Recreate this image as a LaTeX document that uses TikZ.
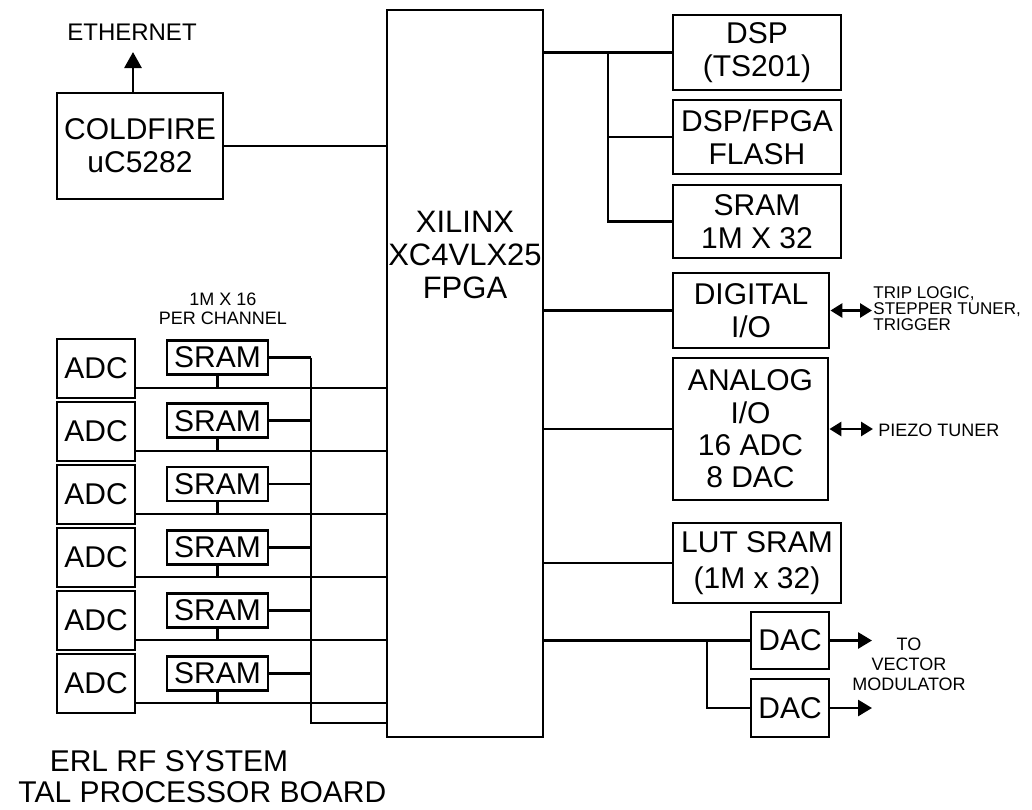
\documentclass[tikz,border=0pt]{standalone}
\usepackage{fontspec}
\setmainfont{Liberation Sans}
\usetikzlibrary{arrows.meta,calc}
\newcommand{\fsz}[2]{\fontsize{#1}{#2}\selectfont}
\begin{document}
\begin{tikzpicture}[x=1pt,y=-1pt,line width=2.8pt,
  box/.style={draw, inner sep=0pt, align=center, font=\fsz{30}{33}},
  lbl/.style={inner sep=0pt, align=center},
  arr/.style={-{Triangle[length=14pt,width=16pt]}},
  earr/.style={-{Triangle[length=16pt,width=17pt]}},
  darr/.style={{Triangle[length=12pt,width=14pt]}-{Triangle[length=12pt,width=14pt]}}]
\useasboundingbox (0,0) rectangle (1032,809);

% FPGA
\node[box, minimum width=156pt, minimum height=727pt] (fpga) at (465,373.5) {};
\node[lbl, font=\fsz{31}{33}] (fpgalbl) at (465,255) {XILINX\\XC4VLX25\\FPGA};

% Coldfire
\node[box, minimum width=166pt, minimum height=106pt] (cf) at (140,146) {COLDFIRE\\uC5282};
\coordinate (eth) at (133,52);
\draw[earr] (eth |- cf.north) -- (eth);
\node[lbl, font=\fsz{24}{26}] (ethl) at (132,32) {ETHERNET};
\draw (cf.east) -- (cf.east -| fpga.west);

% ADC / SRAM column
\node[lbl, font=\fsz{18}{19}] (permem) at (223,309) {1M X 16\\PER CHANNEL};
\coordinate (bus) at (311,723);
\foreach \i in {1,...,6}{
  \node[box, minimum width=78pt, minimum height=59pt] (adc\i) at (96,{368.5+63*(\i-1)}) {ADC};
  \node[box, minimum width=101pt, minimum height=34pt] (sram\i) at (217.5,{357.5+63.2*(\i-1)}) {SRAM};
  \coordinate (ln\i) at ($(adc\i.east)+(0,19.5)$);
  \draw (ln\i) -- (ln\i -| fpga.west);
  \draw (sram\i.south) -- (sram\i.south |- ln\i);
  \draw (sram\i.east) -- (sram\i.east -| bus);
}
\draw (sram1.east -| bus) -- (bus) -- (bus -| fpga.west);

% right side memory
\node[box, minimum width=168pt, minimum height=75pt] (dsp) at (757,52.5) {DSP\\(TS201)};
\node[box, minimum width=168pt, minimum height=74pt] (flash) at (757,137) {DSP/FPGA\\FLASH};
\node[box, minimum width=168pt, minimum height=73pt] (sram32) at (757,221.5) {SRAM\\1M X 32};
\coordinate (rb) at (608,52.5);
\draw (dsp.west -| fpga.east) -- (dsp.west);
\draw (rb) |- (sram32.west);
\draw (rb |- flash.west) -- (flash.west);

% I/O
\node[box, minimum width=156pt, minimum height=75pt] (dio) at (751,310.5) {DIGITAL\\I/O};
\draw (dio.west -| fpga.east) -- (dio.west);
\coordinate (dioe) at (872,310.5);
\draw[darr] (dio.east) -- (dioe);
\node[lbl, anchor=west, align=left, font=\fsz{17}{16}] (diol) at (872,309) {TRIP LOGIC,\\STEPPER TUNER,\\TRIGGER};

\node[box, minimum width=155pt, minimum height=142pt, font=\fsz{30}{32.3}] (aio) at (750.5,429) {ANALOG\\I/O\\16 ADC\\8 DAC};
\draw (aio.west -| fpga.east) -- (aio.west);
\coordinate (aioe) at (873,429);
\draw[darr] (aio.east) -- (aioe);
\node[lbl, anchor=west, font=\fsz{18}{19}] (aiol) at (877,430) {PIEZO TUNER};

\node[box, minimum width=168pt, minimum height=80pt, font=\fsz{30}{36}] (lut) at (757,563) {LUT SRAM\\(1M x 32)};
\draw (lut.west -| fpga.east) -- (lut.west);

% DACs
\node[box, minimum width=78pt, minimum height=57pt] (dac1) at (790,640.5) {DAC};
\node[box, minimum width=78pt, minimum height=58pt] (dac2) at (790,708) {DAC};
\coordinate (db) at (707,640.5);
\draw (dac1.west -| fpga.east) -- (dac1.west);
\draw (db) |- (dac2.west);
\coordinate (d1e) at (872,640.5);
\coordinate (d2e) at (872,708);
\draw[arr] (dac1.east) -- (d1e);
\draw[arr] (dac2.east) -- (d2e);
\node[lbl, font=\fsz{18}{20}] (vm) at (909,664) {TO\\VECTOR\\MODULATOR};

% title
\node[lbl, font=\fsz{30}{33}] (t1) at (169,761) {ERL RF SYSTEM};
\node[lbl, anchor=west, font=\fsz{30}{33}] (t2) at (17,792) {TAL PROCESSOR BOARD};
\end{tikzpicture}
\end{document}
